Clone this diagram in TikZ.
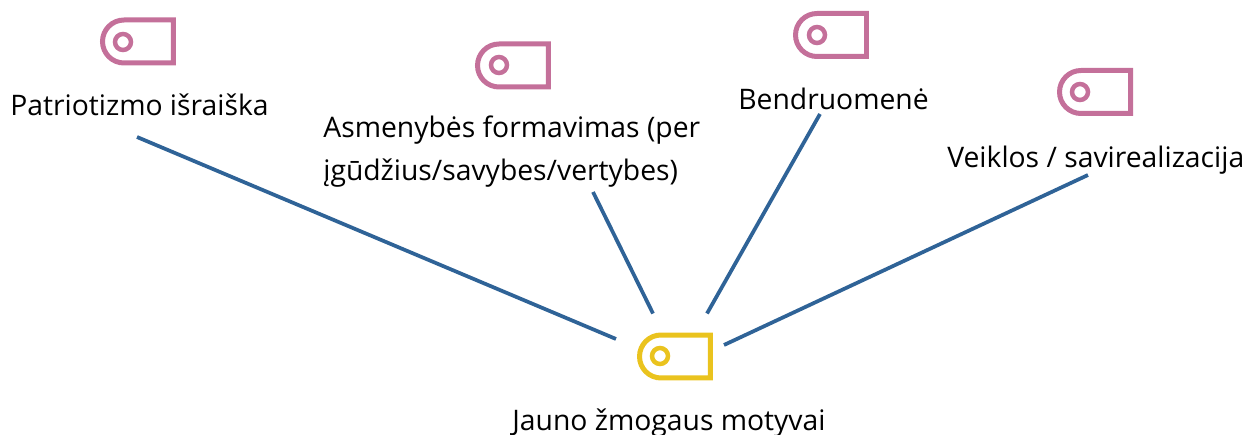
\documentclass[tikz,border=0pt]{standalone}
\usepackage{fontspec}
\setmainfont{Open Sans}
\usetikzlibrary{shapes.misc}
\definecolor{tagpink}{HTML}{C4709A}
\definecolor{tagyellow}{HTML}{EAC31E}
\definecolor{linkblue}{HTML}{2F6397}

\begin{document}
\begin{tikzpicture}[x=0.02cm,y=-0.02cm,
  tag node/.style={rounded rectangle,rounded rectangle east arc=none,draw,line width=0.1cm,
    minimum width=1.42cm,minimum height=0.86cm,inner sep=0pt},
  ring node/.style={circle,draw,line width=0.09cm,minimum size=0.32cm,inner sep=0pt},
  label node/.style={anchor=base west,inner sep=0pt,align=left,
    font=\fontsize{16.1pt}{24.3pt}\selectfont},
  link/.style={draw=linkblue,line width=0.075cm}]
  \useasboundingbox (0,0) rectangle (1245,435);

  \node[tag node,draw=tagpink] (patrtag) at (138,41.5) {};
  \node[tag node,draw=tagpink] (asmtag) at (513,65.5) {};
  \node[tag node,draw=tagpink] (bendtag) at (831,35) {};
  \node[tag node,draw=tagpink] (veiktag) at (1095,92) {};
  \node[tag node,draw=tagyellow] (mot) at (675,356.5) {};

  \node[ring node,draw=tagpink] at (123,42) {};
  \node[ring node,draw=tagpink] at (499,65) {};
  \node[ring node,draw=tagpink] at (817,35) {};
  \node[ring node,draw=tagpink] at (1080,92) {};
  \node[ring node,draw=tagyellow] at (660,356) {};

  \node[label node] (patr) at (10,116) {Patriotizmo išraiška};
  \node[label node,anchor=north west] (asm) at (323,116) {Asmenybės formavimas (per\\įgūdžius/savybes/vertybes)};
  \node[label node] (bend) at (738,110) {Bendruomenė};
  \node[label node] (veik) at (947,168) {Veiklos / savirealizacija};
  \node[label node] (motlabel) at (512,431) {Jauno žmogaus motyvai};

  \path[link]
  ([shift={(127,21)}]patr.base west) -- ([shift={(-21,-17.5)}]mot.west)
  ([shift={(270,76)}]asm.north west) -- ([shift={(-22,-19)}]mot.north)
  ([shift={(82,4)}]bend.base west) -- ([shift={(32,-19)}]mot.north)
  ([shift={(141,7)}]veik.base west) -- ([shift={(11,-11.5)}]mot.east)
  ;
\end{tikzpicture}
\end{document}
